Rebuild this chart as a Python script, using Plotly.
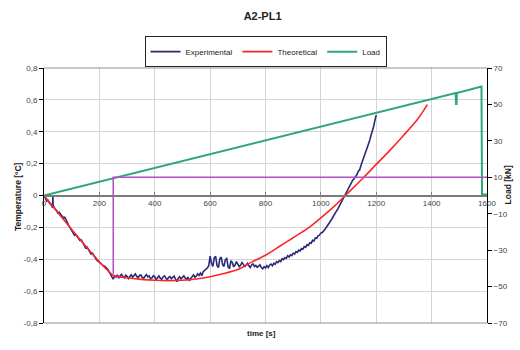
import plotly.graph_objects as go

# ---------------- data ----------------
# Experimental temperature (time [s], temperature [°C])
exp_points = [
    (0, 0.000), (5, -0.020), (10, -0.035), (15, -0.030), (20, -0.048), (25, -0.055), (30, -0.072),
    (31, -0.070), (32, 0.000), (33, -0.070), (35, -0.068), (40, -0.085), (45, -0.092), (50, -0.110),
    (55, -0.105), (60, -0.118), (65, -0.128), (70, -0.140), (75, -0.136), (80, -0.150), (85, -0.172),
    (90, -0.190), (95, -0.205), (100, -0.218), (105, -0.238), (110, -0.250), (115, -0.246),
    (120, -0.258), (125, -0.270), (130, -0.283), (135, -0.279), (140, -0.296), (145, -0.315),
    (150, -0.328), (155, -0.322), (160, -0.338), (165, -0.355), (170, -0.368), (175, -0.362),
    (180, -0.378), (185, -0.395), (190, -0.405), (195, -0.412), (200, -0.420), (205, -0.428),
    (210, -0.432), (215, -0.441), (220, -0.445), (225, -0.452), (230, -0.462), (235, -0.478),
    (240, -0.497), (245, -0.512), (250, -0.525), (255, -0.505), (260, -0.512), (265, -0.498),
    (270, -0.518), (275, -0.503), (280, -0.495), (285, -0.510), (290, -0.516), (295, -0.500),
    (300, -0.507), (305, -0.521), (310, -0.509), (315, -0.497), (320, -0.512), (325, -0.504),
    (330, -0.492), (335, -0.508), (340, -0.516), (345, -0.502), (350, -0.499), (355, -0.514),
    (360, -0.520), (365, -0.506), (370, -0.496), (375, -0.511), (380, -0.505), (385, -0.523),
    (390, -0.517), (395, -0.503), (400, -0.510), (405, -0.527), (410, -0.514), (415, -0.505),
    (420, -0.519), (425, -0.526), (430, -0.511), (435, -0.504), (440, -0.517), (445, -0.529),
    (450, -0.513), (455, -0.508), (460, -0.522), (465, -0.516), (470, -0.506), (475, -0.524),
    (480, -0.541), (485, -0.519), (490, -0.510), (495, -0.523), (500, -0.515), (505, -0.504),
    (510, -0.518), (515, -0.527), (520, -0.512), (525, -0.535), (530, -0.521), (535, -0.507),
    (540, -0.498), (545, -0.513), (550, -0.506), (555, -0.492), (560, -0.501), (565, -0.487),
    (570, -0.503), (575, -0.478), (580, -0.470), (585, -0.462), (590, -0.455), (595, -0.440),
    (600, -0.380), (605, -0.425), (610, -0.445), (615, -0.390), (620, -0.382), (625, -0.440),
    (630, -0.452), (635, -0.398), (640, -0.386), (645, -0.433), (650, -0.445), (655, -0.402),
    (660, -0.395), (665, -0.450), (670, -0.458), (675, -0.410), (680, -0.420), (685, -0.448),
    (690, -0.436), (695, -0.415), (700, -0.428), (705, -0.447), (710, -0.438), (715, -0.420),
    (720, -0.432), (725, -0.446), (730, -0.437), (735, -0.425), (740, -0.441), (745, -0.452),
    (750, -0.436), (755, -0.429), (760, -0.445), (765, -0.438), (770, -0.451), (775, -0.443),
    (780, -0.435), (785, -0.452), (790, -0.460), (795, -0.447), (800, -0.455), (805, -0.440),
    (810, -0.452), (815, -0.436), (820, -0.430), (825, -0.441), (830, -0.425), (835, -0.432),
    (840, -0.415), (845, -0.421), (850, -0.408), (855, -0.414), (860, -0.397), (865, -0.403),
    (870, -0.390), (875, -0.395), (880, -0.378), (885, -0.386), (890, -0.372), (895, -0.377),
    (900, -0.362), (905, -0.368), (910, -0.352), (915, -0.357), (920, -0.343), (925, -0.348),
    (930, -0.333), (935, -0.337), (940, -0.320), (945, -0.325), (950, -0.308), (955, -0.313),
    (960, -0.296), (965, -0.299), (970, -0.281), (975, -0.285), (980, -0.266), (985, -0.268),
    (990, -0.252), (995, -0.249), (1000, -0.236), (1005, -0.232), (1010, -0.218), (1015, -0.212),
    (1020, -0.199), (1025, -0.188), (1030, -0.176), (1035, -0.160), (1040, -0.146), (1045, -0.128),
    (1050, -0.114), (1055, -0.101), (1060, -0.088), (1065, -0.071), (1070, -0.058), (1075, -0.044),
    (1080, -0.030), (1085, -0.008), (1090, 0.010), (1095, 0.030), (1100, 0.045), (1105, 0.058),
    (1110, 0.075), (1115, 0.096), (1120, 0.105), (1125, 0.118), (1130, 0.130), (1135, 0.152),
    (1140, 0.160), (1145, 0.190), (1150, 0.215), (1155, 0.232), (1160, 0.255), (1165, 0.285),
    (1170, 0.310), (1175, 0.338), (1180, 0.370), (1185, 0.398), (1190, 0.430), (1195, 0.470),
    (1200, 0.505),
]
exp_t = [p[0] for p in exp_points]
exp_T = [p[1] for p in exp_points]

theo_t = [0, 250, 300, 350, 400, 450, 500, 550, 600, 650, 700, 750, 800, 850, 900, 950, 1000, 1050,
          1100, 1150, 1200, 1250, 1300, 1350, 1385]
theo_T = [0.0, -0.5, -0.516, -0.526, -0.532, -0.534, -0.532, -0.524, -0.51, -0.49, -0.465, -0.418,
          -0.375, -0.32, -0.265, -0.21, -0.14, -0.065, 0.02, 0.105, 0.195, 0.285, 0.38, 0.48, 0.57]

load_t = [0, 250, 500, 750, 1000, 1250, 1487, 1488, 1490, 1491, 1580, 1582, 1586, 1600]
load_kN = [0, 9.5, 19.0, 28.4, 37.8, 47.2, 56.2, 50.3, 50.3, 56.3, 59.8, 0.0, 0.5, 0.5]

marker_t = [250, 250, 1600]
marker_kN = [-43.0, 10.0, 10.0]

x_ticks = [0, 200, 400, 600, 800, 1000, 1200, 1400, 1600]
y_ticks = [0.8, 0.6, 0.4, 0.2, 0, -0.2, -0.4, -0.6, -0.8]
y_labels = ["0,8", "0,6", "0,4", "0,2", "0", "-0,2", "-0,4", "-0,6", "-0,8"]
y2_ticks = [70, 50, 30, 10, -10, -30, -50, -70]

FONT = "Arial, Liberation Sans, sans-serif"

fig = go.Figure()
fig.add_trace(go.Scatter(x=exp_t, y=exp_T, mode="lines", name="Experimental",
                         line=dict(color="#2B2A78", width=1.6), legendrank=1))
fig.add_trace(go.Scatter(x=theo_t, y=theo_T, mode="lines", name="Theoretical",
                         line=dict(color="#FF2525", width=1.6, shape="spline", smoothing=0.6), legendrank=2))
fig.add_trace(go.Scatter(x=load_t, y=load_kN, mode="lines", name="Load", yaxis="y2",
                         line=dict(color="#2EA676", width=2), legendrank=3))
fig.add_trace(go.Scatter(x=marker_t, y=marker_kN, mode="lines", yaxis="y2", showlegend=False,
                         line=dict(color="#B050C4", width=1.5)))

fig.update_layout(
    width=520, height=350,
    margin=dict(l=44, r=33, t=68, b=27),
    paper_bgcolor="white", plot_bgcolor="white",
    font=dict(family=FONT, size=8, color="#333333"),
    title=dict(text="<b>A2-PL1</b>", x=0.505, xanchor="center", y=0.955, yanchor="middle",
               font=dict(family=FONT, size=11, color="#222222")),
    showlegend=True,
    legend=dict(orientation="h", x=0.5, xanchor="center", y=1.125, yanchor="top",
                bordercolor="#222222", borderwidth=1, bgcolor="white",
                font=dict(family=FONT, size=8, color="#222222"), itemwidth=30,
                tracegroupgap=0),
    xaxis=dict(range=[0, 1600], tickvals=x_ticks, ticks="inside", ticklen=3, tickcolor="#808080",
               showgrid=True, gridcolor="#D4D4D4", gridwidth=1,
               anchor="free", position=0.5, showline=True, linecolor="#7A7A7A", linewidth=1.5,
               zeroline=False, tickfont=dict(size=8, color="#444444")),
    yaxis=dict(range=[-0.8, 0.8], tickvals=y_ticks, ticktext=y_labels, ticks="outside", ticklen=4,
               tickcolor="#000000", showgrid=True, gridcolor="#D4D4D4", gridwidth=1,
               showline=True, linecolor="#000000", linewidth=1, zeroline=False,
               tickfont=dict(size=8, color="#444444")),
    yaxis2=dict(range=[-70, 70], tickvals=y2_ticks, overlaying="y", side="right", ticks="outside",
                ticklen=4, tickcolor="#000000", showgrid=False, showline=True, linecolor="#000000",
                linewidth=1, zeroline=False, tickfont=dict(size=8, color="#444444")),
    shapes=[
        dict(type="line", xref="paper", yref="paper", x0=0, x1=1, y0=1, y1=1,
             line=dict(color="#909090", width=1)),
        dict(type="line", xref="paper", yref="paper", x0=0, x1=1, y0=0, y1=0,
             line=dict(color="#909090", width=1)),
    ],
    annotations=[
        dict(text="<b>time [s]</b>", xref="paper", yref="paper", x=0.492, y=-0.067,
             showarrow=False, font=dict(size=8, color="#222222")),
        dict(text="<b>Temperature [°C]</b>", xref="paper", yref="paper", x=-0.0745, y=0.498,
             textangle=-90, showarrow=False, font=dict(size=8.5, color="#222222")),
        dict(text="<b>Load [kN]</b>", xref="paper", yref="paper", x=1.064, y=0.541,
             textangle=-90, showarrow=False, font=dict(size=8.5, color="#222222")),
    ],
)

fig.write_html("out.html")
